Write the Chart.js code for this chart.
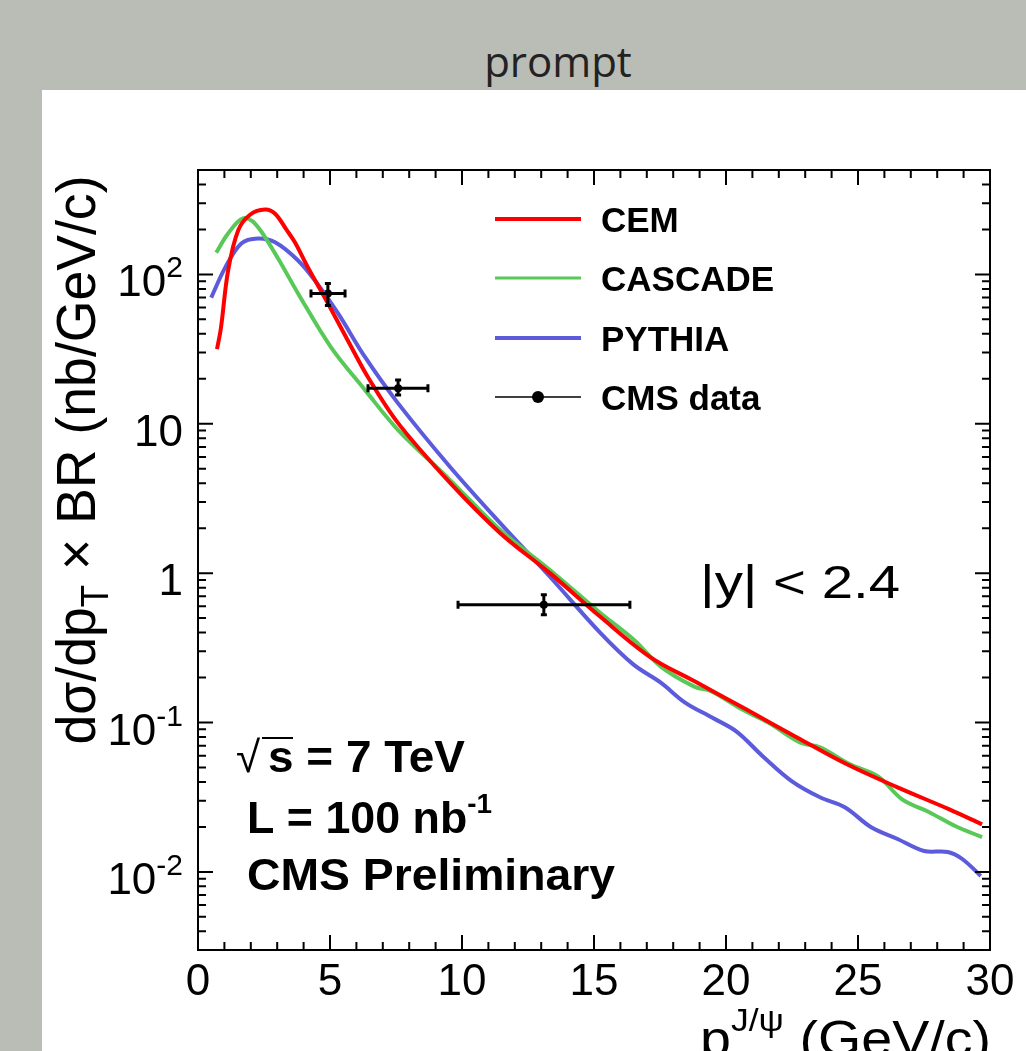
<!DOCTYPE html>
<html>
<head>
<meta charset="utf-8">
<script src="https://cdn.jsdelivr.net/npm/chart.js@4.4.1/dist/chart.umd.min.js"></script>
<style>
  html, body { margin: 0; padding: 0; }
  body { width: 1026px; height: 1051px; background: #babcb6; position: relative; overflow: hidden; }
  #title { position: absolute; left: 0; width: 1116px; top: 32px; text-align: center;
           font-family: "Open Sans", sans-serif; font-size: 42px; line-height: 58px; color: #222; }
  #panel { position: absolute; left: 42px; top: 90px; right: 0; bottom: 0; background: #fff; }
  #c { position: absolute; left: 0; top: 0; }
</style>
</head>
<body>
<div id="title">prompt</div>
<div id="panel"></div>
<canvas id="c" width="1026" height="1051"></canvas>
<script>
// curves (pT in GeV/c, dsigma/dpT x BR in nb/GeV/c)
const cemX = [0.72, 0.87, 1.14, 1.52, 1.97, 2.54, 2.92, 3.37, 3.67, 4.17, 4.92, 5.68, 6.44, 7.58, 9.55, 11.44, 13.33, 15.23, 17.16, 18.83, 20.76, 22.69, 24.58, 26.5, 28.44, 29.7];
const cemY = [31.6, 44, 106, 197, 251, 272, 255, 197, 164, 111, 64, 36, 20.5, 10.1, 4.02, 1.86, 1.0, 0.512, 0.272, 0.188, 0.1225, 0.0795, 0.0525, 0.0368, 0.0263, 0.0208];

const cascadeX = [0.69, 1.14, 1.70, 2.16, 2.92, 3.79, 5.04, 6.33, 7.58, 9.55, 11.44, 13.33, 15.23, 16.5, 17.53, 18.8, 19.47, 20.6, 21.6, 22.8, 23.56, 24.7, 25.76, 26.67, 27.7, 28.7, 29.7];
const cascadeY = [140, 188, 237, 219, 138, 74.6, 32.5, 16.8, 9.08, 4.2, 1.95, 1.05, 0.543, 0.359, 0.237, 0.174, 0.161, 0.1225, 0.100, 0.0736, 0.0682, 0.0525, 0.0436, 0.0306, 0.0251, 0.0202, 0.0171];

const pythiaX = [0.5, 1.03, 1.64, 2.27, 2.92, 3.79, 4.43, 5.3, 6.33, 7.58, 9.55, 11.44, 13.33, 15.23, 16.5, 17.53, 18.45, 19.47, 20.4, 21.4, 22.5, 23.56, 24.5, 25.5, 26.5, 27.5, 28.4, 28.95, 29.65];
const pythiaY = [70, 111, 161, 174, 164, 124, 91, 55, 27.9, 13.7, 5.14, 2.17, 0.946, 0.40, 0.244, 0.185, 0.136, 0.108, 0.087, 0.0593, 0.0404, 0.0316, 0.0271, 0.0199, 0.0166, 0.0138, 0.0136, 0.0122, 0.0094];

// CMS data points with errors
const cmsX = [4.92, 7.58, 13.1];
const cmsY = [74.6, 17.3, 0.615];
const cmsXLow = [4.28, 6.44, 9.85];
const cmsXHigh = [5.57, 8.71, 16.36];
const cmsYLow = [62, 15.6, 0.527];
const cmsYHigh = [87, 19.6, 0.718];

// axis labels
const xTicks = [0, 5, 10, 15, 20, 25, 30];
const xTickLabels = ["0", "5", "10", "15", "20", "25", "30"];
const yTicks = [0.01, 0.1, 1, 10, 100];
const yTickLabels = [["10", "-2"], ["10", "-1"], ["1", ""], ["10", ""], ["10", "2"]];

const legendNames = ["CEM", "CASCADE", "PYTHIA", "CMS data"];
const colors = ["#ff0000", "#58c958", "#5b5bdc", "#000000"];

const FONT = '"Liberation Sans", Arial, Helvetica, sans-serif';

function pts(xs, ys) {
  return xs.map((x, i) => ({ x: x, y: ys[i] }));
}

// draw a run of text pieces [text, font, dy], optionally squeezed/stretched to a width
function rich(ctx, segs, x, y, align, fitW) {
  let w = 0;
  const ws = segs.map(s => { ctx.font = s[1]; const m = ctx.measureText(s[0]).width; w += m; return m; });
  const sx = fitW ? fitW / w : 1;
  const x0 = align === "right" ? x - w * sx : align === "center" ? x - w * sx / 2 : x;
  ctx.save();
  ctx.translate(x0, y);
  ctx.scale(sx, 1);
  ctx.textAlign = "left";
  ctx.textBaseline = "alphabetic";
  let cx = 0;
  segs.forEach((s, i) => { ctx.font = s[1]; ctx.fillText(s[0], cx, s[2] || 0); cx += ws[i]; });
  ctx.restore();
}

const rootStyle = {
  id: "rootStyle",
  afterDatasetsDraw(chart) {
    const ctx = chart.ctx;
    const xs = chart.scales.x, ys = chart.scales.y;
    // error bars
    ctx.save();
    ctx.strokeStyle = "#000";
    ctx.lineWidth = 3;
    for (let i = 0; i < cmsX.length; i++) {
      const px = xs.getPixelForValue(cmsX[i]);
      const py = ys.getPixelForValue(cmsY[i]);
      const xl = xs.getPixelForValue(cmsXLow[i]);
      const xh = xs.getPixelForValue(cmsXHigh[i]);
      const yl = ys.getPixelForValue(cmsYLow[i]);
      const yh = ys.getPixelForValue(cmsYHigh[i]);
      ctx.beginPath();
      ctx.moveTo(xl, py); ctx.lineTo(xh, py);
      ctx.moveTo(xl, py - 4); ctx.lineTo(xl, py + 4);
      ctx.moveTo(xh, py - 4); ctx.lineTo(xh, py + 4);
      ctx.moveTo(px, yl); ctx.lineTo(px, yh);
      ctx.moveTo(px - 3, yl); ctx.lineTo(px + 3, yl);
      ctx.moveTo(px - 3, yh); ctx.lineTo(px + 3, yh);
      ctx.stroke();
    }
    ctx.restore();
  },
  afterDraw(chart) {
    const ctx = chart.ctx;
    const a = chart.chartArea;
    const xs = chart.scales.x, ys = chart.scales.y;
    ctx.save();
    ctx.fillStyle = "#000";
    ctx.strokeStyle = "#000";

    // frame
    ctx.lineWidth = 2;
    ctx.strokeRect(a.left, a.top, a.right - a.left, a.bottom - a.top);

    // x ticks, inside, top and bottom
    ctx.beginPath();
    for (let v = 0; v <= 30; v++) {
      const px = xs.getPixelForValue(v);
      const len = v % 5 === 0 ? 15 : 8;
      ctx.moveTo(px, a.bottom); ctx.lineTo(px, a.bottom - len);
      ctx.moveTo(px, a.top); ctx.lineTo(px, a.top + len);
    }
    // y ticks, log, left and right
    for (let d = -3; d <= 2; d++) {
      for (let m = 1; m <= 9; m++) {
        const v = m * Math.pow(10, d);
        if (v < ys.min || v > ys.max) continue;
        const py = ys.getPixelForValue(v);
        const len = m === 1 ? 15 : 8;
        ctx.moveTo(a.left, py); ctx.lineTo(a.left + len, py);
        ctx.moveTo(a.right, py); ctx.lineTo(a.right - len, py);
      }
    }
    ctx.stroke();

    // tick labels
    ctx.textAlign = "center";
    ctx.font = "44px " + FONT;
    xTicks.forEach((v, i) => {
      ctx.fillText(xTickLabels[i], xs.getPixelForValue(v), a.bottom + 45);
    });
    yTicks.forEach((v, i) => {
      const py = ys.getPixelForValue(v) + 22;
      const l = yTickLabels[i];
      rich(ctx, [[l[0], "44px " + FONT, 0], [l[1], "30px " + FONT, -19]], a.left - 15, py, "right");
    });

    // axis titles
    ctx.save();
    ctx.translate(95, 460);
    ctx.rotate(-Math.PI / 2);
    rich(ctx, [["d\u03c3/dp", "56px " + FONT, 0], ["T", "38px " + FONT, 13], [" \u00d7 BR (nb/GeV/c)", "56px " + FONT, 0]], 0, 0, "center", 569);
    ctx.restore();
    rich(ctx, [["p", "50px " + FONT, 0], ["J/\u03c8", "32px " + FONT, -25], [" (GeV/c)", "50px " + FONT, 0]], a.right + 1, 1056, "right", 291);

    // legend
    const legY = [219, 278, 338, 397];
    const legW = [4, 3, 4, 1.5];
    legendNames.forEach((name, i) => {
      ctx.strokeStyle = colors[i];
      ctx.lineWidth = legW[i];
      ctx.beginPath();
      ctx.moveTo(495, legY[i]); ctx.lineTo(581, legY[i]);
      ctx.stroke();
      if (i === 3) {
        ctx.beginPath();
        ctx.arc(538, legY[i], 6, 0, Math.PI * 2);
        ctx.fill();
      }
      rich(ctx, [[name, "bold 35px " + FONT, 0]], 601, legY[i] + 13, "left");
    });

    // annotations
    rich(ctx, [["|y| < 2.4", "46px " + FONT, 0]], 700, 598, "left", 200);
    rich(ctx, [["\u221a", "44px " + FONT, 0]], 236, 772, "left");
    ctx.lineWidth = 2;
    ctx.strokeStyle = "#000";
    ctx.beginPath();
    ctx.moveTo(262, 738); ctx.lineTo(293, 738);
    ctx.stroke();
    rich(ctx, [["s = 7 TeV", "bold 45px " + FONT, 0]], 268, 772, "left", 197);
    rich(ctx, [["L = 100 nb", "bold 45px " + FONT, 0], ["-1", "bold 28px " + FONT, -20]], 247, 833, "left", 245);
    rich(ctx, [["CMS Preliminary", "bold 45px " + FONT, 0]], 247, 890, "left", 368);
    ctx.restore();
  }
};

const curveStyle = { borderWidth: 4, pointRadius: 0, tension: 0.35 };

new Chart(document.getElementById("c").getContext("2d"), {
  type: "line",
  data: {
    datasets: [
      Object.assign({ label: legendNames[0], data: pts(cemX, cemY), borderColor: colors[0] }, curveStyle),
      Object.assign({ label: legendNames[1], data: pts(cascadeX, cascadeY), borderColor: colors[1] }, curveStyle),
      Object.assign({ label: legendNames[2], data: pts(pythiaX, pythiaY), borderColor: colors[2] }, curveStyle),
      { label: legendNames[3], data: pts(cmsX, cmsY), showLine: false, pointRadius: 4, pointBackgroundColor: "#000", borderColor: "#000", pointBorderWidth: 0 }
    ]
  },
  options: {
    responsive: false,
    animation: false,
    devicePixelRatio: 1,
    layout: { padding: { left: 198, right: 36, top: 170, bottom: 101 } },
    plugins: { legend: { display: false }, tooltip: { enabled: false } },
    scales: {
      x: { type: "linear", min: 0, max: 30, display: false },
      y: { type: "logarithmic", min: 0.003, max: 500, display: false }
    }
  },
  plugins: [rootStyle]
});
</script>
</body>
</html>
